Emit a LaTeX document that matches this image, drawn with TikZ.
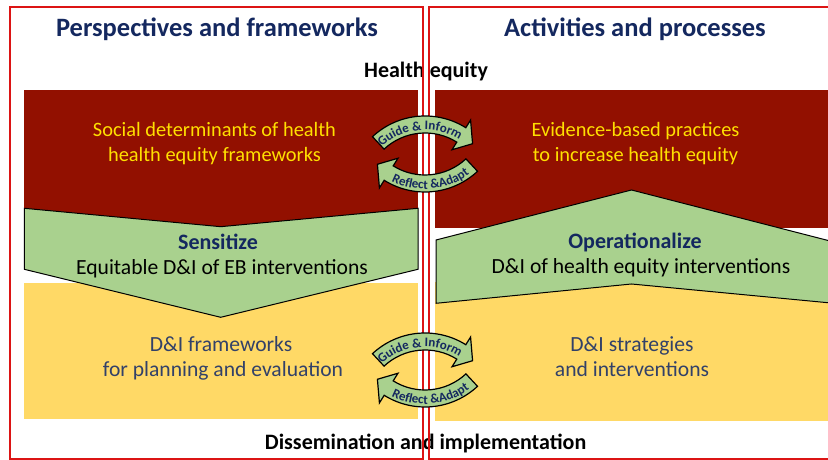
\documentclass[tikz,border=0pt]{standalone}
\usepackage{fontspec}
\setmainfont{Carlito}
\usetikzlibrary{decorations.text}
\definecolor{navy}{RGB}{20,40,95}
\definecolor{slate}{RGB}{50,65,105}
\definecolor{darkred}{RGB}{146,16,0}
\definecolor{yeltxt}{RGB}{255,224,0}
\definecolor{greenfill}{RGB}{169,209,142}
\definecolor{yelband}{RGB}{255,217,102}
\definecolor{boxred}{RGB}{220,20,20}
\tikzset{
  titletext/.style={anchor=base,text=navy,font=\fontsize{26.5}{30}\selectfont\bfseries},
  headtext/.style={anchor=base,text=black,font=\fontsize{22}{25}\selectfont\bfseries},
  redtext/.style={anchor=base,text=yeltxt,font=\fontsize{20.4}{25}\selectfont},
  boldnavy/.style={anchor=base,text=navy,font=\fontsize{22}{25}\selectfont\bfseries},
  blacktext/.style={anchor=base,text=black,font=\fontsize{21.6}{25}\selectfont},
  yeltext/.style={anchor=base,text=slate,font=\fontsize{21.6}{25}\selectfont},
  greenshape/.style={fill=greenfill,draw=black,line width=1pt,line join=miter},
  arrowshape/.style={fill=greenfill,draw=black,line width=1.2pt,line join=miter},
  boxline/.style={draw=boxred,line width=2pt},
}
\newcommand\arrowfnt{\color{navy}\fontsize{13}{13}\selectfont\bfseries}
\begin{document}
\begin{tikzpicture}[x=1pt,y=1pt]
\useasboundingbox (0,0) rectangle (828,460);
\fill[white] (0,0) rectangle (828,460);
% bands
\fill[darkred] (24.3,370) rectangle (418,231);
\fill[darkred] (435,370) rectangle (828,232.3);
\fill[yelband] (24.3,176.7) rectangle (418,40.7);
\fill[yelband] (435,178) rectangle (828,39.3);
% chevrons
\filldraw[greenshape] (24.3,251.7) -- (220.7,233.3) -- (418,251.7) -- (418,190.7) -- (220.7,142.7) -- (24.3,190.7) -- cycle;
\filldraw[greenshape] (436,220) -- (631.5,270) -- (834,218) -- (834,156.7) -- (631.5,176) -- (436,156.7) -- cycle;
% texts
\node[titletext] (t1) at (217,423) {Perspectives and frameworks};
\node[titletext] (t2) at (635,423) {Activities and processes};
\node[headtext] (he) at (426,382.7) {Health equity};
\node[headtext] (di) at (425.6,10) {Dissemination and implementation};
\node[redtext] (sd1) at (214.5,323.3) {Social determinants of health};
\node[redtext] (sd2) at (214.5,298.3) {health equity frameworks};
\node[redtext] (eb1) at (635.5,323.3) {Evidence-based practices};
\node[redtext] (eb2) at (635.5,298.3) {to increase health equity};
\node[boldnavy] (se) at (218,210) {Sensitize};
\node[blacktext] (eq) at (222,185.5) {Equitable D\&I of EB interventions};
\node[boldnavy] (op) at (635,211.7) {Operationalize};
\node[blacktext] (dh) at (641,186.7) {D\&I of health equity interventions};
\node[yeltext] (df1) at (221,108.3) {D\&I frameworks};
\node[yeltext] (df2) at (223,83.3) {for planning and evaluation};
\node[yeltext] (ds1) at (632,108.3) {D\&I strategies};
\node[yeltext] (ds2) at (632,83.3) {and interventions};
% box borders
\draw[boxline] (10,453) rectangle (423,1);
\draw[boxline] (832,453) -- (429,453) -- (429,1) -- (832,1);
% curved arrows
\foreach \cy/\ly in {267/345, 50/130}{
  \begin{scope}[shift={(425,\cy)}]
    \filldraw[arrowshape] (133:77) arc[start angle=133,end angle=58,radius=77] -- (58:86) -- (46:68.5) -- (58:51) -- (58:60) arc[start angle=58,end angle=133,radius=60] -- cycle;
    \path[decorate,decoration={text along path,text align=center,text={|\arrowfnt|Guide {\&} Inform}}] (136:63) arc[start angle=136,end angle=54,radius=63];
  \end{scope}
  \begin{scope}[shift={(425,\ly)}]
    \filldraw[arrowshape] (313:77) arc[start angle=313,end angle=238,radius=77] -- (238:86) -- (226:68.5) -- (238:51) -- (238:60) arc[start angle=238,end angle=313,radius=60] -- cycle;
    \path[decorate,decoration={text along path,text align=center,text={|\arrowfnt|Reflect {\&}Adapt}}] (234:74) arc[start angle=234,end angle=316,radius=74];
  \end{scope}
}
\end{tikzpicture}
\end{document}
